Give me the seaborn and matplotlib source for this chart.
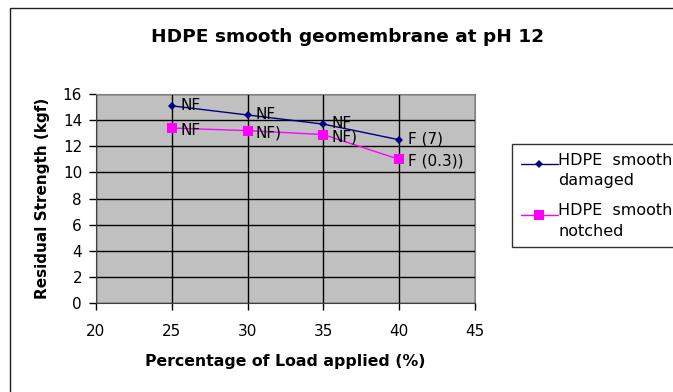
import matplotlib
matplotlib.use("Agg")
import matplotlib.pyplot as plt
import matplotlib.patches as mpatches
from matplotlib.lines import Line2D
from matplotlib.legend_handler import HandlerLine2D
import seaborn as sns
import pandas as pd

# Data
load_pct = [25, 30, 35, 40]
damaged = [15.1, 14.4, 13.7, 12.5]
notched = [13.4, 13.2, 12.9, 11.0]
damaged_labels = ["NF", "NF", "NF", "F (7)"]
notched_labels = ["NF", "NF)", "NF)", "F (0.3))"]
series_names = ["HDPE  smooth\ndamaged", "HDPE  smooth\nnotched"]
x_ticks = [20, 25, 30, 35, 40, 45]
y_ticks = [0, 2, 4, 6, 8, 10, 12, 14, 16]

sns.set_style("white")
plt.rcParams['font.family'] = ['DejaVu Sans']
plt.rcParams['text.color'] = 'black'
plt.rcParams['axes.labelcolor'] = 'black'
plt.rcParams['xtick.color'] = 'black'
plt.rcParams['ytick.color'] = 'black'

df = pd.DataFrame({
    "load": load_pct * 2,
    "strength": damaged + notched,
    "series": [series_names[0]] * 4 + [series_names[1]] * 4,
})

fig = plt.figure(figsize=(6.73, 3.92), dpi=100)
ax = fig.add_axes([0.1426, 0.227, 0.5632, 0.533])
ax.set_facecolor("#C0C0C0")

colors = {series_names[0]: "#000080", series_names[1]: "#FF00FF"}
markers = {series_names[0]: "D", series_names[1]: "s"}
sns.lineplot(data=df, x="load", y="strength", hue="series", style="series",
             palette=colors, markers=markers, dashes=False, ax=ax,
             linewidth=1.0, legend=False, markeredgewidth=0)
for line, ms in zip(ax.lines, [4.5, 6.5]):
    line.set_markersize(ms)

for x, y, t in zip(load_pct, damaged, damaged_labels):
    ax.annotate(t, (x, y), xytext=(6, 0.5), textcoords="offset points",
                va="center", ha="left", fontsize=11, color="black")
for x, y, t in zip(load_pct, notched, notched_labels):
    ax.annotate(t, (x, y), xytext=(6, -1.5), textcoords="offset points",
                va="center", ha="left", fontsize=11, color="black")

ax.set_xlim(20, 45)
ax.set_ylim(0, 16)
ax.set_xticks(x_ticks)
ax.set_yticks(y_ticks)
ax.grid(True, color="black", linewidth=1.0)
ax.set_axisbelow(True)
ax.tick_params(axis="both", direction="out", length=5, width=1, labelsize=11,
               left=True, bottom=True, colors="black", pad=5)
ax.tick_params(axis="x", pad=10)
for s in ["top", "right"]:
    ax.spines[s].set_color("#808080")
for s in ["left", "bottom"]:
    ax.spines[s].set_color("#404040")

ax.set_xlabel("Percentage of Load applied (%)", fontsize=11.3, fontweight="bold", labelpad=11)
ax.set_ylabel("Residual Strength (kgf)", fontsize=11, fontweight="bold", labelpad=9)

fig.text(0.517, 0.905, "HDPE smooth geomembrane at pH 12", ha="center", va="center",
         fontsize=13.3, fontweight="bold", color="black")

# outer chart border
fig.patches.append(mpatches.Rectangle((0.0149, -0.1), 1.2, 1.0796, transform=fig.transFigure,
                                      fill=False, edgecolor="#202020", linewidth=1.0))


class TopHandler(HandlerLine2D):
    def create_artists(self, legend, orig_handle, xdescent, ydescent, width, height,
                       fontsize, trans):
        return super().create_artists(legend, orig_handle, xdescent,
                                      ydescent - 0.8 * fontsize, width, height,
                                      fontsize, trans)


handles = [
    Line2D([0], [0], color="#000080", marker="D", markersize=4.5, markeredgewidth=0, linewidth=1.0),
    Line2D([0], [0], color="#FF00FF", marker="s", markersize=6.5, markeredgewidth=0, linewidth=1.0),
]
leg = fig.legend(handles, series_names, loc="upper left", bbox_to_anchor=(0.761, 0.633),
                 bbox_transform=fig.transFigure, frameon=True, fancybox=False, fontsize=11.5,
                 handlelength=2.3, handletextpad=0.05, borderpad=0.55, labelspacing=0.95,
                 borderaxespad=0,
                 handler_map={Line2D: TopHandler()})
leg.get_frame().set_edgecolor("black")
leg.get_frame().set_linewidth(1.0)
for t in leg.get_texts():
    t.set_linespacing(1.45)
    t.set_color("black")

fig.savefig("out.png", dpi=100)
